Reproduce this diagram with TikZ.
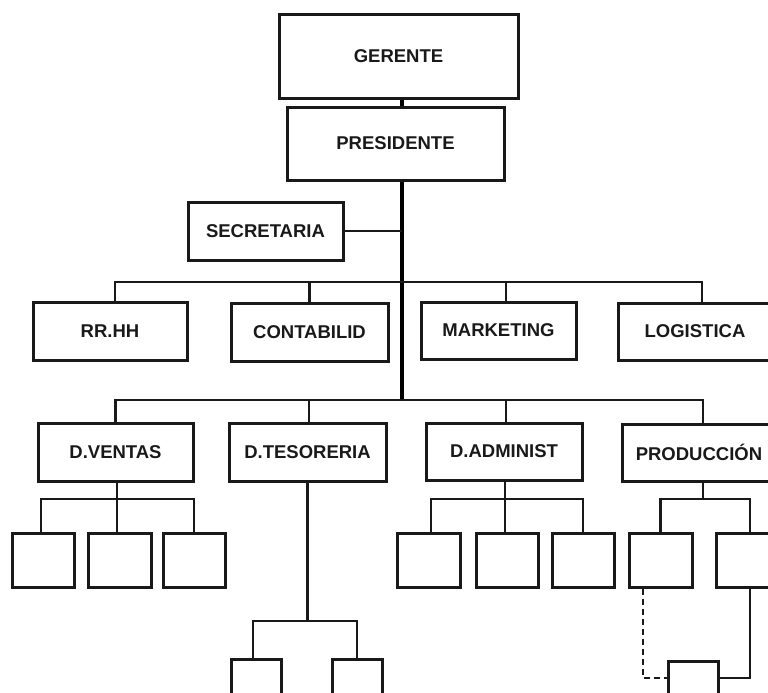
\documentclass[tikz,border=0pt]{standalone}
\usepackage{fontspec}
\setmainfont{Liberation Sans}
\begin{document}
\begin{tikzpicture}[x=1pt,y=-1pt,
  box/.style={draw=black!90,line width=3pt,rectangle,inner sep=0pt,
    font=\bfseries\fontsize{18.5}{22}\selectfont,text=black!90},
  conn/.style={draw=black!90,line width=2.5pt},
  trunk/.style={draw=black,line width=4.5pt},
  dashconn/.style={draw=black!90,line width=2.4pt,dash pattern=on 6pt off 4pt}]
\useasboundingbox (0,0) rectangle (768,693);
\clip (0,0) rectangle (768,693);

% top of the chart
\node[box,minimum width=239pt,minimum height=83pt] (ger) at (398.5,56.5) {GERENTE};
\node[box,minimum width=217pt,minimum height=73pt] (pre) at (395.5,143.5) {PRESIDENTE};
\node[box,minimum width=155pt,minimum height=58pt] (sec) at (265.5,231) {SECRETARIA};

% first level of departments
\node[box,minimum width=154pt,minimum height=58pt] (rrhh) at (110,331) {RR.HH};
\node[box,minimum width=157pt,minimum height=58pt] (cont) at (309.5,332) {CONTABILID};
\node[box,minimum width=155pt,minimum height=57pt] (mkt) at (498.5,330.5) {MARKETING};
\node[box,minimum width=154pt,minimum height=57pt] (log) at (695,331.5) {LOGISTICA};

% second level of departments
\node[box,minimum width=155pt,minimum height=58pt] (dv) at (115.5,452) {D.VENTAS};
\node[box,minimum width=157pt,minimum height=58pt] (dt) at (307.5,452) {D.TESORERIA};
\node[box,minimum width=156pt,minimum height=57pt] (da) at (504,451.5) {D.ADMINIST};
\node[box,minimum width=154pt,minimum height=57pt] (prod) at (699,452.5) {PRODUCCIÓN};

% empty sub-units
\node[box,minimum width=62pt,minimum height=54pt] (v1) at (43,560) {};
\node[box,minimum width=63pt,minimum height=54pt] (v2) at (119.5,560) {};
\node[box,minimum width=62pt,minimum height=54pt] (v3) at (194,560) {};
\node[box,minimum width=63pt,minimum height=54pt] (a1) at (428.5,560) {};
\node[box,minimum width=62pt,minimum height=54pt] (a2) at (507,560) {};
\node[box,minimum width=62pt,minimum height=54pt] (a3) at (583,560) {};
\node[box,minimum width=63pt,minimum height=54pt] (p1) at (660.5,560) {};
\node[box,minimum width=68pt,minimum height=54pt] (p2) at (750,560) {};
\node[box,minimum width=50pt,minimum height=51pt] (t1) at (256,684.5) {};
\node[box,minimum width=50pt,minimum height=51pt] (t2) at (357,684.5) {};
\node[box,minimum width=50pt,minimum height=51pt] (q) at (693,686.5) {};

% bus lines
\coordinate (bus1) at (402,282);
\coordinate (bus2) at (402,400);
\coordinate (logtop) at ([xshift=7pt]log.north);
\coordinate (prodtop) at ([xshift=4pt]prod.north);
\coordinate (rrtop) at ([xshift=5pt]rrhh.north);

% main trunk
\draw[line width=3.5pt] (ger.south -| bus1) -- (pre.north -| bus1);
\draw[trunk] (pre.south -| bus1) -- (bus2);
\draw[conn] (sec.east) -- (sec.east -| bus1);

% first level
\draw[conn] (rrtop) |- (logtop |- bus1) -- (logtop);
\draw[conn] (cont.north) -- (cont.north |- bus1);
\draw[conn] ([xshift=7.5pt]mkt.north) -- ([xshift=7.5pt]mkt.north |- bus1);

% second level
\draw[conn] (dv.north) |- (prodtop |- bus2) -- (prodtop);
\draw[conn] ([xshift=1.5pt]dt.north) -- ([xshift=1.5pt]dt.north |- bus2);
\draw[conn] ([xshift=2pt]da.north) -- ([xshift=2pt]da.north |- bus2);

% D.VENTAS units
\draw[conn] ([xshift=1.5pt]dv.south) -- ([xshift=1.5pt]dv.south |- v2.north);
\draw[conn] ([xshift=-2pt]v1.north) |- (0,499 -| v3.north) -- (v3.north);
% D.ADMINIST units
\draw[conn] ([xshift=1pt]da.south) -- ([xshift=1pt]da.south |- a2.north);
\draw[conn] ([xshift=2.5pt]a1.north) |- (0,499 -| a3.north) -- (a3.north);
% PRODUCCION units
\draw[conn] (prodtop |- prod.south) -- (prodtop |- 0,499);
\draw[conn] (p1.north) |- (0,499 -| p2.north) -- (p2.north);
\draw[dashconn] ([xshift=-17.5pt]p1.south) |- ([yshift=8.5pt]q.west);
\draw[conn] (p2.south) |- ([yshift=8.5pt]q.east);
% D.TESORERIA units
\draw[conn] (dt.south) -- (dt.south |- 0,621);
\draw[conn] ([xshift=-3pt]t1.north) |- (0,621 -| t2.north) -- (t2.north);
\end{tikzpicture}
\end{document}
